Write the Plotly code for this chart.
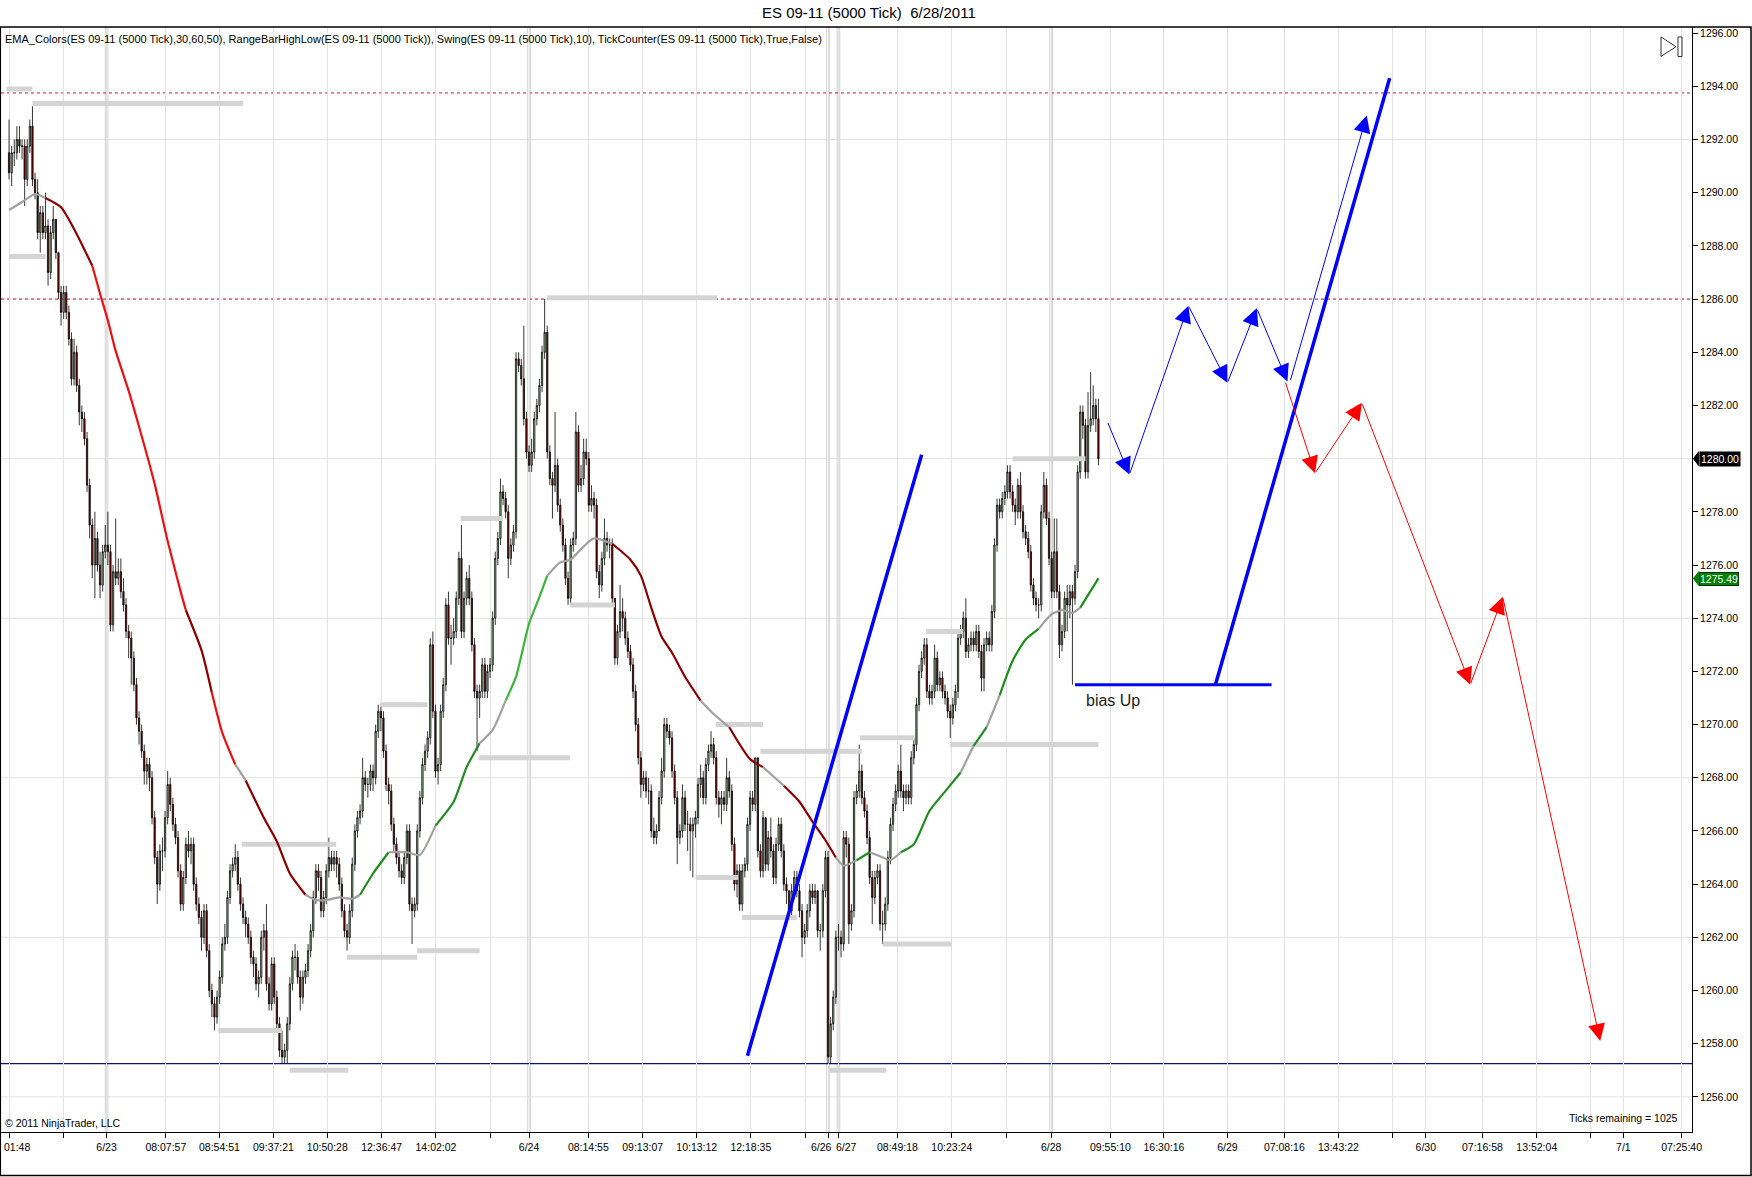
import plotly.graph_objects as go

FONT = "Liberation Sans, Arial, Helvetica, sans-serif"

# ---------------- data (bar index = position of a 5000-tick bar) ----------------
first_open = 1291.5
close_px = [
1290.75,1291.5,1291.5,1292.0,1291.75,1291.75,1290.5,1291.75,1292.5,1290.5,
1290.0,1288.5,1289.25,1288.5,1288.75,1287.0,1288.5,1289.0,1287.75,1286.25,
1285.5,1286.25,1285.5,1284.5,1283.0,1284.0,1282.75,1281.75,1281.5,1280.75,
1279.0,1277.5,1276.0,1277.0,1276.0,1275.25,1276.5,1276.75,1276.5,1273.75,
1275.75,1275.5,1275.75,1275.0,1274.5,1273.5,1273.25,1272.5,1271.5,1270.25,
1269.75,1269.0,1268.25,1268.5,1268.0,1266.5,1265.0,1264.0,1265.25,1265.25,
1266.5,1267.75,1267.0,1266.25,1265.75,1264.5,1263.25,1264.25,1265.5,1265.25,
1265.5,1264.0,1263.25,1262.75,1262.0,1263.0,1261.5,1260.0,1259.5,1259.0,
1259.75,1260.5,1261.75,1262.0,1263.5,1264.5,1264.75,1265.0,1264.0,1263.25,
1262.75,1262.5,1262.0,1261.25,1261.0,1260.25,1260.5,1262.0,1262.25,1260.25,
1259.5,1261.0,1259.75,1258.75,1257.75,1257.5,1257.75,1258.75,1260.25,1261.25,
1261.25,1260.5,1259.75,1260.5,1260.75,1261.5,1262.25,1263.5,1264.5,1264.25,
1263.0,1263.5,1264.5,1265.0,1264.75,1265.0,1264.75,1264.0,1263.0,1262.25,
1262.0,1263.0,1264.75,1266.0,1266.5,1266.75,1268.0,1267.75,1267.75,1268.25,
1268.0,1269.75,1270.5,1270.25,1269.0,1267.75,1267.5,1266.25,1265.5,1265.0,
1264.5,1264.25,1265.0,1266.0,1263.25,1263.0,1263.25,1266.0,1267.25,1268.5,
1269.0,1269.5,1273.0,1270.5,1268.25,1268.5,1270.5,1271.5,1274.5,1273.25,
1273.25,1273.5,1274.75,1276.25,1273.5,1274.75,1275.5,1274.75,1273.0,1271.25,
1271.0,1271.25,1272.25,1271.25,1272.0,1272.25,1274.0,1276.25,1277.0,1278.75,
1278.5,1278.0,1276.25,1276.75,1277.25,1283.75,1283.5,1283.0,1281.5,1280.25,
1279.75,1280.25,1281.5,1282.0,1282.75,1284.0,1284.75,1280.25,1279.25,1279.0,
1279.75,1278.25,1277.5,1276.75,1275.5,1274.75,1276.75,1277.0,1281.0,1279.0,
1279.25,1280.25,1280.0,1278.25,1278.5,1278.25,1275.75,1275.25,1276.25,1277.0,
1276.75,1276.75,1274.75,1272.5,1273.5,1274.25,1274.0,1273.25,1272.75,1272.25,
1271.25,1270.0,1268.75,1267.75,1268.0,1267.5,1267.5,1266.0,1265.75,1266.0,
1267.25,1268.25,1270.0,1269.75,1269.5,1268.25,1267.25,1265.75,1266.0,1267.25,
1266.25,1266.25,1266.0,1266.25,1266.5,1267.75,1268.0,1267.25,1268.5,1269.0,
1269.25,1268.75,1267.25,1267.0,1267.25,1267.0,1268.0,1267.5,1265.5,1264.0,
1264.5,1263.25,1264.5,1264.75,1266.25,1267.25,1267.0,1268.75,1265.25,1264.5,
1266.5,1264.75,1265.75,1265.25,1264.25,1265.5,1266.25,1265.25,1264.0,1263.75,
1263.0,1263.75,1264.25,1263.75,1263.0,1262.0,1262.25,1263.0,1263.75,1263.5,
1263.75,1262.25,1262.25,1263.75,1265.0,1257.5,1258.75,1259.75,1262.0,1262.0,
1261.75,1265.75,1265.5,1262.5,1263.0,1267.25,1267.5,1268.25,1267.25,1266.75,
1265.75,1264.25,1263.5,1264.25,1264.5,1262.5,1262.5,1263.25,1265.0,1266.25,
1267.0,1267.5,1268.25,1267.5,1267.25,1267.5,1267.25,1268.75,1269.25,1270.75,
1272.0,1272.5,1273.0,1271.25,1271.0,1271.25,1272.5,1271.5,1271.75,1271.25,
1271.0,1270.5,1270.25,1270.75,1271.25,1273.25,1273.5,1274.0,1272.75,1273.0,
1273.25,1273.0,1273.5,1272.75,1271.75,1273.0,1273.25,1273.0,1274.25,1276.75,
1278.25,1278.0,1278.5,1278.75,1279.5,1278.75,1278.25,1278.0,1279.0,1278.0,
1277.25,1277.0,1276.5,1275.25,1274.75,1274.5,1274.5,1278.0,1279.0,1277.75,
1276.25,1275.0,1276.5,1275.0,1273.0,1273.5,1274.75,1274.5,1275.0,1274.75,
1275.75,1279.5,1281.75,1281.25,1279.5,1281.25,1281.5,1282.0,1281.5,1280.0,
]
high_px = [
1292.75,1291.75,1292.0,1292.5,1292.5,1292.0,1292.0,1292.0,1292.75,1293.25,
1290.75,1290.5,1289.5,1289.5,1290.0,1289.0,1288.75,1289.5,1289.0,1287.75,
1286.5,1286.5,1286.5,1285.75,1284.75,1284.5,1284.25,1283.0,1282.0,1281.75,
1281.0,1279.25,1277.75,1278.0,1277.25,1276.5,1276.75,1277.5,1278.0,1276.75,
1276.0,1277.75,1276.25,1276.25,1275.5,1274.75,1273.75,1273.5,1272.75,1271.75,
1270.5,1270.0,1269.25,1268.75,1268.75,1268.25,1266.75,1265.25,1265.5,1265.75,
1266.75,1268.25,1268.0,1267.25,1266.5,1266.0,1264.75,1264.5,1265.75,1266.0,
1265.75,1265.75,1264.25,1263.5,1263.0,1263.25,1263.25,1261.75,1260.25,1259.75,
1260.0,1260.75,1262.0,1262.5,1263.75,1264.75,1265.0,1265.5,1265.25,1264.25,
1263.5,1263.0,1262.75,1262.25,1261.5,1261.25,1260.75,1262.25,1262.5,1263.25,
1260.5,1261.25,1261.25,1260.0,1259.0,1258.5,1258.0,1259.0,1260.5,1261.5,
1261.75,1261.5,1260.75,1260.75,1261.0,1261.75,1262.5,1263.75,1264.75,1264.75,
1264.5,1263.75,1264.75,1265.75,1265.25,1265.25,1265.25,1265.0,1264.25,1263.25,
1262.5,1263.25,1265.0,1266.25,1266.75,1267.0,1268.75,1268.25,1268.0,1268.5,
1268.5,1270.0,1270.75,1270.75,1270.5,1269.25,1268.0,1267.75,1266.5,1265.75,
1265.25,1264.75,1265.25,1266.25,1266.25,1263.5,1263.5,1266.25,1267.5,1268.75,
1269.25,1269.75,1273.25,1273.5,1270.75,1268.75,1270.75,1271.75,1274.75,1275.0,
1273.75,1274.0,1275.0,1276.5,1277.5,1275.0,1275.75,1276.0,1275.0,1273.25,
1271.5,1271.5,1272.5,1272.5,1272.25,1272.5,1274.25,1276.5,1277.25,1279.25,
1279.0,1278.75,1278.25,1277.0,1277.5,1284.0,1284.0,1283.75,1285.0,1281.75,
1280.5,1280.75,1281.75,1282.25,1283.0,1284.25,1286.0,1285.0,1280.5,1279.5,
1281.75,1280.0,1278.5,1277.75,1277.0,1275.75,1277.0,1277.25,1281.75,1281.25,
1279.75,1280.75,1280.75,1280.25,1279.0,1278.75,1278.5,1276.0,1276.5,1277.75,
1277.25,1277.0,1277.0,1274.75,1273.75,1275.25,1274.75,1274.25,1273.5,1273.0,
1272.5,1271.5,1270.25,1269.0,1268.25,1268.25,1268.0,1267.75,1266.5,1266.25,
1267.5,1268.75,1270.25,1270.25,1270.0,1269.75,1268.5,1267.5,1266.25,1267.75,
1267.5,1266.75,1266.5,1266.5,1266.75,1268.0,1268.5,1268.25,1268.75,1269.25,
1269.75,1269.5,1269.0,1267.5,1267.5,1267.5,1268.75,1268.25,1267.75,1265.75,
1264.75,1264.75,1264.75,1265.0,1266.5,1267.5,1267.5,1268.75,1268.75,1265.5,
1266.75,1266.5,1266.0,1266.5,1265.5,1265.75,1266.5,1266.5,1265.5,1264.25,
1263.75,1264.0,1264.5,1264.5,1264.0,1263.25,1262.5,1263.25,1264.0,1264.0,
1264.0,1263.75,1262.5,1264.0,1265.25,1265.25,1259.0,1260.0,1262.25,1262.5,
1262.25,1266.0,1266.0,1265.75,1263.25,1267.5,1267.75,1269.25,1268.5,1267.5,
1267.0,1266.0,1264.5,1264.5,1264.75,1264.75,1263.0,1263.5,1265.25,1266.5,
1267.25,1267.75,1268.5,1269.25,1267.75,1267.75,1267.75,1269.0,1269.5,1271.0,
1272.25,1272.75,1273.25,1273.25,1271.5,1271.5,1273.0,1272.75,1272.0,1272.0,
1271.5,1271.25,1270.75,1271.0,1271.5,1273.5,1273.75,1274.25,1274.75,1273.25,
1273.5,1273.5,1273.75,1273.75,1273.0,1273.25,1273.5,1273.5,1274.5,1277.0,
1278.5,1278.5,1278.75,1279.0,1279.75,1279.75,1279.0,1278.5,1279.25,1279.5,
1278.25,1277.5,1277.25,1276.75,1275.5,1275.0,1274.75,1278.25,1279.5,1279.25,
1278.0,1276.5,1277.75,1277.75,1275.25,1273.75,1275.0,1275.25,1275.25,1275.25,
1276.0,1279.75,1282.0,1282.0,1281.5,1282.5,1283.25,1282.75,1282.25,1282.25,
]
low_px = [
1290.5,1290.25,1291.0,1291.25,1291.5,1291.25,1289.5,1290.25,1291.5,1290.25,
1289.75,1288.25,1287.75,1288.25,1288.25,1286.5,1286.75,1288.25,1287.5,1286.0,
1285.0,1285.25,1285.25,1284.25,1282.75,1282.75,1282.5,1281.25,1281.0,1280.5,
1278.75,1277.0,1275.5,1274.75,1275.75,1274.75,1275.0,1276.25,1276.0,1273.5,
1273.5,1275.25,1275.25,1274.75,1274.25,1273.25,1272.5,1271.5,1271.25,1270.0,
1269.25,1268.75,1267.75,1267.75,1267.5,1266.25,1264.75,1263.25,1263.75,1264.5,
1265.0,1266.25,1266.75,1266.0,1265.5,1264.25,1263.0,1263.0,1264.0,1265.0,
1264.75,1263.75,1263.0,1262.5,1261.5,1261.75,1261.25,1259.75,1259.0,1258.5,
1258.75,1259.5,1260.25,1261.5,1261.75,1263.25,1264.25,1264.5,1263.75,1263.0,
1262.5,1262.0,1261.75,1261.0,1260.5,1260.0,1259.75,1260.25,1261.5,1260.0,
1259.25,1259.25,1259.5,1258.5,1257.5,1257.25,1257.25,1257.25,1258.5,1260.0,
1260.75,1260.25,1259.25,1259.5,1260.25,1260.5,1261.25,1262.0,1263.25,1263.75,
1262.75,1262.75,1263.25,1264.25,1264.5,1264.5,1264.25,1263.75,1262.75,1262.0,
1261.5,1261.75,1262.75,1264.5,1265.75,1266.25,1266.5,1267.5,1267.25,1267.5,
1267.5,1267.75,1269.5,1269.75,1268.75,1267.5,1267.0,1266.0,1265.25,1264.75,
1264.25,1264.0,1264.0,1264.75,1263.0,1261.75,1262.75,1263.0,1265.75,1267.0,
1268.25,1268.75,1269.25,1270.25,1268.0,1267.75,1268.25,1270.25,1271.25,1273.0,
1272.25,1273.0,1273.25,1274.5,1273.25,1273.25,1274.5,1274.5,1272.75,1271.0,
1269.0,1270.25,1271.0,1271.0,1271.0,1271.75,1272.0,1273.75,1276.0,1276.75,
1278.25,1277.75,1275.5,1276.0,1276.5,1277.0,1283.25,1282.75,1281.25,1280.0,
1279.5,1279.5,1280.0,1281.25,1281.75,1282.5,1283.75,1280.0,1279.0,1277.75,
1278.75,1278.0,1277.25,1276.5,1275.25,1274.5,1274.5,1276.5,1276.75,1278.75,
1278.75,1279.0,1279.75,1278.0,1278.0,1277.75,1275.5,1274.75,1275.0,1276.0,
1276.5,1276.25,1274.5,1272.25,1272.25,1273.25,1273.5,1273.0,1272.5,1272.0,
1271.0,1269.75,1268.5,1267.25,1267.5,1267.25,1267.0,1265.75,1265.5,1265.5,
1266.0,1267.0,1268.0,1269.5,1269.25,1268.0,1267.0,1264.75,1265.5,1265.75,
1266.0,1265.25,1264.5,1264.25,1265.75,1266.25,1267.25,1267.0,1267.0,1268.25,
1268.75,1268.5,1267.0,1266.5,1266.25,1266.75,1266.75,1267.25,1265.25,1263.75,
1263.5,1263.0,1263.0,1264.25,1264.5,1266.0,1266.75,1266.75,1265.0,1264.25,
1264.25,1264.5,1264.5,1265.0,1264.0,1264.0,1265.25,1265.0,1263.75,1263.25,
1262.75,1262.75,1263.5,1263.5,1262.75,1261.25,1261.75,1262.0,1262.75,1263.25,
1263.25,1262.0,1261.5,1262.0,1263.5,1257.25,1257.25,1258.5,1259.5,1261.5,
1261.25,1261.5,1265.0,1261.75,1262.25,1262.75,1267.0,1267.25,1267.0,1266.5,
1265.5,1264.0,1262.5,1263.25,1264.0,1262.25,1261.75,1262.25,1263.0,1264.75,
1266.0,1266.75,1267.25,1267.25,1266.75,1267.0,1267.0,1267.0,1268.5,1269.0,
1270.5,1271.75,1272.25,1271.0,1270.75,1270.75,1271.0,1271.25,1271.25,1271.0,
1270.75,1270.25,1269.5,1270.0,1270.5,1271.0,1273.0,1273.25,1272.5,1272.5,
1272.75,1272.75,1272.75,1272.5,1271.25,1271.25,1272.75,1272.75,1272.75,1274.0,
1276.5,1277.75,1277.75,1278.25,1278.5,1278.5,1278.0,1277.5,1277.75,1277.75,
1277.0,1276.75,1276.25,1275.0,1274.5,1274.25,1274.0,1274.25,1277.75,1277.5,
1276.0,1274.75,1274.75,1274.75,1272.5,1272.75,1273.25,1273.5,1274.0,1271.5,
1274.5,1275.5,1279.25,1280.75,1279.25,1279.25,1281.0,1281.25,1281.0,1279.75,
]

# EMA(30) at sample bars, with its slope colour key
ema_idx = [0,5,10,14,20,26,32,35,38,41,46,50,56,61,66,68,74,78,82,87,
           91,98,103,108,114,118,122,127,132,135,140,146,153,158,164,171,176,181,186,191,
           195,200,204,207,212,216,221,225,232,239,243,247,251,255,260,266,271,277,285,290,
           298,304,309,314,318,321,326,331,335,339,343,348,354,361,366,371,376,381,386,391,
           396,401,405,409,412,419]
ema_val = [1289.35,1289.65,1289.95,1289.8,1289.45,1288.45,1287.25,1286.2,1285.2,1284.05,
           1282.55,1281.2,1279.05,1276.9,1275.0,1274.3,1272.8,1271.2,1269.7,1268.5,
           1267.9,1266.5,1265.6,1264.4,1263.6,1263.4,1263.4,1263.5,1263.45,1263.6,
           1264.4,1265.2,1265.2,1265.1,1266.2,1267.1,1268.4,1269.3,1269.8,1270.9,
           1271.8,1273.8,1274.8,1275.6,1276.1,1276.2,1276.7,1277.0,1276.8,1276.2,
           1275.6,1274.4,1273.3,1272.7,1271.8,1270.9,1270.4,1269.9,1268.7,1268.4,
           1267.7,1267.1,1266.35,1265.65,1265.0,1264.7,1264.9,1265.2,1265.05,1264.9,
           1265.2,1265.5,1266.75,1267.6,1268.2,1269.2,1269.9,1271.1,1272.4,1273.2,
           1273.6,1274.15,1274.3,1274.2,1274.4,1275.5]
ema_key = ['g','g','g','dr','dr','dr','r','r','r','r',
           'r','r','r','r','r','dr','dr','r','r','g',
           'dr','dr','dr','dr','g','g','g','g','g','dg',
           'dg','g','g','g','dg','dg','dg','g','g','lg',
           'lg','lg','lg','g','g','g','g','g','dr','dr',
           'dr','dr','dr','dr','dr','g','g','dr','dr','g',
           'dr','dr','dr','dr','g','g','dg','g','g','g',
           'dg','dg','dg','dg','g','dg','g','dg','dg','dg',
           'g','g','g','g','dg','dg']
ema_colors = {'g': '#a0a0a0', 'dr': '#8b0000', 'r': '#ee1010', 'dg': '#1e8c1e', 'lg': '#3cb43c'}

# x-axis ticks (bar positions) and their labels
tick_idx = [0, 20.9, 37.5, 60.3, 80.9, 101.7, 122.4, 143.3, 164.2, 185, 200, 222.8, 243.7,
            264.5, 285.3, 306.2, 315, 319, 341.7, 362.6, 383.5, 400.8, 423.6, 444.2, 468.6,
            490.5, 511.3, 532.1, 544.9, 566.7, 587.6, 608.3, 620.9, 643.3]
tick_text = ["", "", "6/23", "08:07:57", "08:54:51", "09:37:21", "10:50:28", "12:36:47",
             "14:02:02", "", "6/24", "08:14:55", "09:13:07", "10:13:12", "12:18:35", "", "",
             "", "08:49:18", "10:23:24", "", "6/28", "09:55:10", "16:30:16", "6/29",
             "07:08:16", "13:43:22", "", "6/30", "07:16:58", "13:52:04", "", "7/1", "07:25:40"]
# labels whose ticks crowd each other: (text, bar position, anchor)
crowded_labels = [("01:48", -2.7, "left"), ("6/26", 317.2, "right"), ("6/27", 317.2, "left")]
session_idx = [37.5, 200, 315, 319, 400.8]
hgrid_levels = [1256, 1262, 1268, 1274, 1280, 1286, 1292]

# RangeBarHighLow / Swing level segments: start bar, end bar, price
swing_x0 = [-1, 9, 0, 89.5, 80.5, 108, 130, 157, 142.7, 173.7, 180.8, 207, 215.8, 271.8,
            289, 264, 282, 315.4, 336, 327.3, 352.7, 362, 386]
swing_x1 = [9, 90, 14, 125.8, 105, 130.5, 157, 181, 161, 190, 215.8, 272.3, 233, 290,
            328, 280.4, 303, 337.3, 362.7, 348.3, 367, 419, 414]
swing_lvl = [1293.9, 1293.35, 1287.6, 1265.5, 1258.5, 1257.0, 1261.25, 1261.5, 1270.75,
             1277.75, 1268.75, 1286.05, 1274.5, 1270.0, 1269.0, 1264.25, 1262.75, 1257.0,
             1261.75, 1269.5, 1273.5, 1269.25, 1280.0]

red_dash_levels = [1293.75, 1286.0]
blue_level = 1257.25

trend_x = [[284, 351], [464, 531]]
trend_y = [[1257.55, 1280.15], [1271.5, 1294.3]]
bias_x = [410, 485.6]
bias_y = [1271.5, 1271.5]

blue_path_x = [422.4, 430.9, 453.6, 468.6, 479.9, 491.7]
blue_path_y = [1281.4, 1279.4, 1285.75, 1282.85, 1285.65, 1282.9]
blue_up_x = [492.7, 522.2]
blue_up_y = [1282.9, 1292.9]
red_path_x = [490.8, 502.3, 520.3, 562.0, 574.5, 612.0]
red_path_y = [1282.9, 1279.45, 1282.1, 1271.5, 1274.8, 1258.1]

last_price = 1280.00
ema_last = 1275.49

# ---------------- figure ----------------
n = len(close_px)
assert len(high_px) == n and len(low_px) == n, (n, len(high_px), len(low_px))
bars = list(range(n))
open_px = [first_open] + close_px[:-1]
hi = [max(h, o, c) for h, o, c in zip(high_px, open_px, close_px)]
lo = [min(l, o, c) for l, o, c in zip(low_px, open_px, close_px)]

fig = go.Figure()

# swing level bars (light grey, thick)
for a, b, v in zip(swing_x0, swing_x1, swing_lvl):
    fig.add_trace(go.Scatter(x=[a, b], y=[v, v], mode="lines",
                             line=dict(color="#d4d4d4", width=5),
                             hoverinfo="skip", showlegend=False))

fig.add_trace(go.Candlestick(
    x=bars, open=open_px, high=hi, low=lo, close=close_px,
    increasing=dict(fillcolor="#a9d8a9", line=dict(color="black", width=0.8)),
    decreasing=dict(fillcolor="#8b0000", line=dict(color="black", width=0.8)),
    whiskerwidth=0, hoverinfo="skip", showlegend=False))

# coloured EMA, one trace per run of equal colour
k = 0
m = len(ema_idx)
while k < m - 1:
    j = k
    while j < m - 1 and ema_key[j] == ema_key[k]:
        j += 1
    fig.add_trace(go.Scatter(x=ema_idx[k:j + 1], y=ema_val[k:j + 1], mode="lines",
                             line=dict(color=ema_colors[ema_key[k]], width=2.2,
                                       shape="spline", smoothing=0.6),
                             hoverinfo="skip", showlegend=False))
    k = j

# drawn trend lines
for tx, ty in zip(trend_x, trend_y):
    fig.add_trace(go.Scatter(x=tx, y=ty, mode="lines", line=dict(color="#0000ff", width=3.5),
                             hoverinfo="skip", showlegend=False))
fig.add_trace(go.Scatter(x=bias_x, y=bias_y, mode="lines", line=dict(color="#0000ff", width=3),
                         hoverinfo="skip", showlegend=False))

shapes = []
for lv in hgrid_levels:
    shapes.append(dict(type="line", xref="paper", x0=0, x1=1, yref="y", y0=lv, y1=lv,
                       line=dict(color="#e2e2e2", width=1), layer="below"))
for s in session_idx:
    for d in (-0.5, 0.5):
        shapes.append(dict(type="line", xref="x", x0=s + d, x1=s + d, yref="paper", y0=0, y1=1,
                           line=dict(color="#d2d2d2", width=1), layer="below"))
for lv in red_dash_levels:
    shapes.append(dict(type="line", xref="paper", x0=0, x1=1, yref="y", y0=lv, y1=lv,
                       line=dict(color="#d0103a", width=1, dash="dot"), layer="below"))
shapes.append(dict(type="line", xref="paper", x0=0, x1=1, yref="y", y0=blue_level, y1=blue_level,
                   line=dict(color="#101080", width=1.3), layer="below"))

# outer frame and the small ▷| icon (paper coordinates)
shapes.append(dict(type="rect", xref="paper", yref="paper", x0=-0.0004, x1=1.0349,
                   y0=-0.0394, y1=1.0, line=dict(color="black", width=1.5)))
shapes.append(dict(type="path", xref="paper", yref="paper",
                   path="M0.98167,0.99100 L0.98167,0.97330 L0.99054,0.98215 Z",
                   line=dict(color="#333333", width=1)))
shapes.append(dict(type="rect", xref="paper", yref="paper", x0=0.99172, x1=0.99409,
                   y0=0.97330, y1=0.99100, line=dict(color="#333333", width=1)))
# price marker pointers on the axis
for pv, col in ((last_price, "black"), (ema_last, "#008000")):
    shapes.append(dict(type="path", xref="paper", yref="y",
                       path=f"M1.0008,{pv} L1.0040,{pv + 0.26} L1.0040,{pv - 0.26} Z",
                       fillcolor=col, line=dict(color=col, width=1)))

ann = []
def arrow(x0, y0, x1, y1, color):
    ann.append(dict(x=x1, y=y1, ax=x0, ay=y0, xref="x", yref="y", axref="x", ayref="y",
                    text="", showarrow=True, arrowhead=2, arrowsize=3.4, arrowwidth=1,
                    arrowcolor=color, standoff=0, startstandoff=0))

for a in range(len(blue_path_x) - 1):
    arrow(blue_path_x[a], blue_path_y[a], blue_path_x[a + 1], blue_path_y[a + 1], "#0000ff")
arrow(blue_up_x[0], blue_up_y[0], blue_up_x[1], blue_up_y[1], "#0000ff")
for a in range(len(red_path_x) - 1):
    arrow(red_path_x[a], red_path_y[a], red_path_x[a + 1], red_path_y[a + 1], "#ff0000")

txt = dict(family=FONT, color="#000000")
for t, xi, anc in crowded_labels:
    ann.append(dict(xref="x", yref="paper", x=xi, y=-0.0136, xanchor=anc, yanchor="middle",
                    text=t, showarrow=False, font=dict(size=10.5, **txt)))
ann.append(dict(xref="paper", yref="paper", x=0.5133, y=1.0127, xanchor="center", yanchor="middle",
                text="ES 09-11 (5000 Tick)&nbsp; 6/28/2011", showarrow=False,
                font=dict(size=15, **txt)))
ann.append(dict(xref="paper", yref="paper", x=0.0012, y=0.98914, xanchor="left", yanchor="middle",
                text="EMA_Colors(ES 09-11 (5000 Tick),30,60,50), RangeBarHighLow(ES 09-11 (5000 Tick)), "
                     "Swing(ES 09-11 (5000 Tick),10), TickCounter(ES 09-11 (5000 Tick),True,False)",
                showarrow=False, font=dict(size=11, **txt)))
ann.append(dict(xref="paper", yref="paper", x=0.0012, y=0.0081, xanchor="left", yanchor="middle",
                text="© 2011 NinjaTrader, LLC", showarrow=False, font=dict(size=10.5, **txt)))
ann.append(dict(xref="paper", yref="paper", x=0.9929, y=0.0127, xanchor="right", yanchor="middle",
                text="Ticks remaining = 1025", showarrow=False, font=dict(size=10.5, **txt)))
ann.append(dict(xref="x", yref="y", x=413.5, y=1270.9, xanchor="left", yanchor="middle",
                text="bias Up", showarrow=False, font=dict(size=16, family=FONT, color="#222222")))
ann.append(dict(xref="paper", yref="y", x=1.0040, y=last_price, xanchor="left", yanchor="middle",
                text=f"{last_price:.2f}", showarrow=False, bgcolor="black", borderpad=1,
                font=dict(size=10.5, family=FONT, color="white")))
ann.append(dict(xref="paper", yref="y", x=1.0040, y=ema_last, xanchor="left", yanchor="middle",
                text=f"{ema_last:.2f}", showarrow=False, bgcolor="#008000", bordercolor="#003300",
                borderwidth=1, borderpad=0, font=dict(size=10.5, family=FONT, color="white")))

fig.update_layout(
    template="none",
    width=1752, height=1177,
    margin=dict(l=1, r=60, t=27, b=45, pad=0),
    paper_bgcolor="white", plot_bgcolor="white",
    font=dict(family=FONT, size=10.5, color="black"),
    showlegend=False, shapes=shapes, annotations=ann,
    boxgap=0.3,
    xaxis=dict(range=[-3.1, 647.3], tickmode="array", tickvals=tick_idx, ticktext=tick_text,
               tickangle=0, showgrid=True, gridcolor="#e2e2e2", gridwidth=1, zeroline=False,
               ticks="outside", ticklen=5, tickcolor="black", showline=True, linecolor="black",
               linewidth=1, rangeslider=dict(visible=False), automargin=False,
               ticklabeloverflow="allow", tickfont=dict(size=10.5, family=FONT, color="black")),
    yaxis=dict(range=[1254.68, 1296.23], side="right", tick0=1256, dtick=2, tickformat=".2f",
               showgrid=False, zeroline=False, ticks="outside", ticklen=5, tickcolor="black",
               showline=True, linecolor="black", linewidth=1, automargin=False,
               tickfont=dict(size=10.5, family=FONT, color="black")),
)

fig.write_html("out.html", config={"displayModeBar": False},
               post_script="document.body.style.margin='0';document.body.style.overflow='hidden';")
